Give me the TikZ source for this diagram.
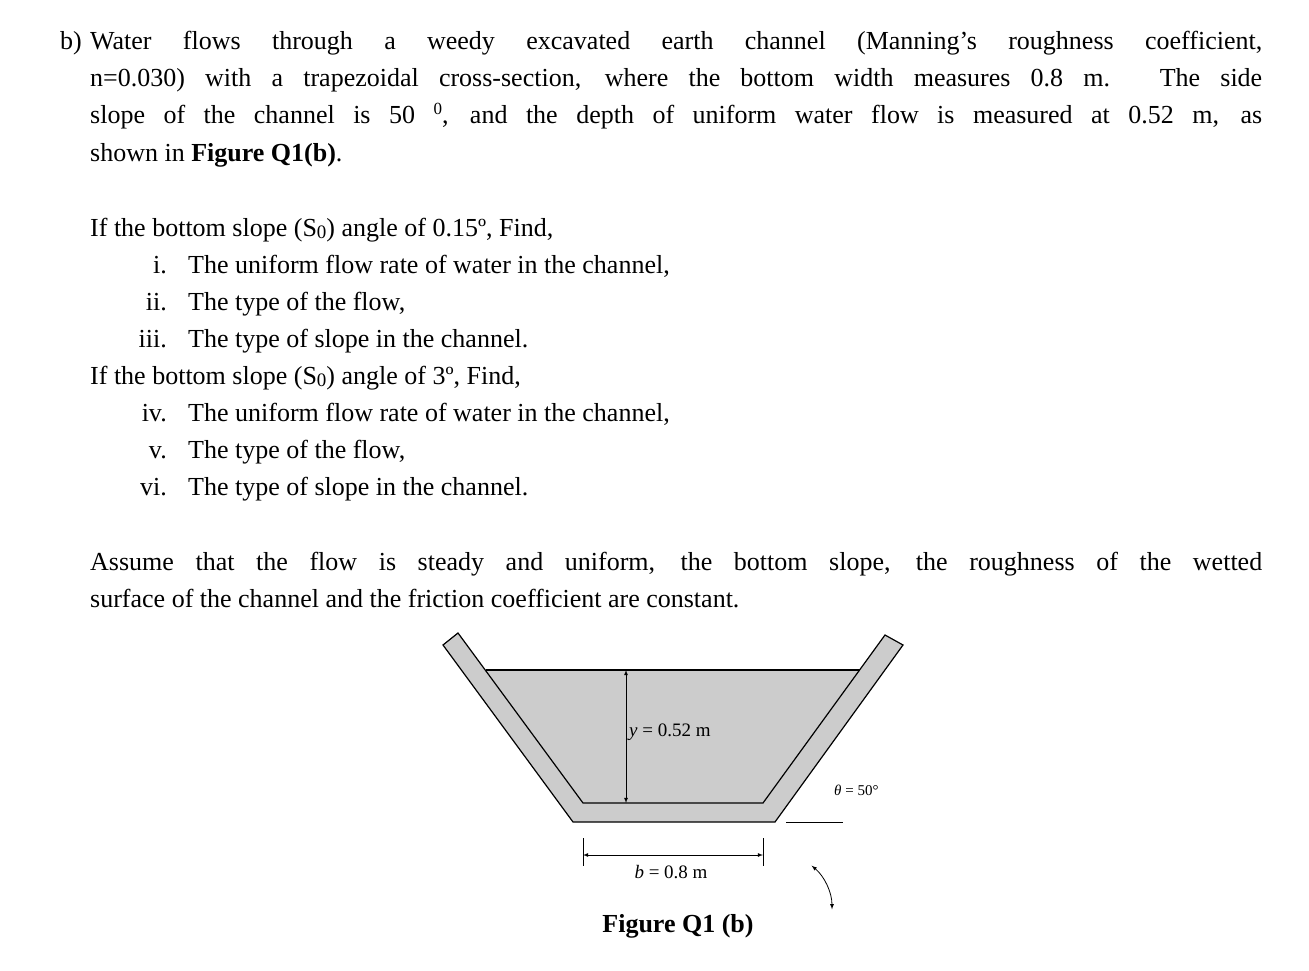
\documentclass[tikz,border=0pt]{standalone}
\usepackage{fontspec}
\setmainfont{Liberation Serif}
\begin{document}
\begin{tikzpicture}[x=1pt,y=-1pt,
  txt/.style={anchor=base west,inner sep=0pt,font=\fontsize{26}{30}\selectfont},
  num/.style={anchor=base east,inner sep=0pt,font=\fontsize{26}{30}\selectfont},
  lbl/.style={inner sep=1pt,font=\fontsize{19}{22}\selectfont},
  dim/.style={line width=0.8pt}]
\useasboundingbox[fill=white] (0,0) rectangle (1309,971);
\newcommand{\jl}[1]{\makebox[1172pt][s]{#1}}
\newcommand{\So}{S\raisebox{-2pt}{\fontsize{19}{20}\selectfont 0}}
\node[txt] (b) at (60,50) {b)};
\node[txt] (l1) at (90,50) {\jl{Water flows through a weedy excavated earth channel (Manning’s roughness coefficient,}};
\node[txt] (l2) at (90,87) {\jl{n=0.030) with a trapezoidal cross-section, where the bottom width measures 0.8 m. The side}};
\node[txt] (l3) at (90,124) {\jl{slope of the channel is 50 \raisebox{9pt}{\fontsize{17}{18}\selectfont 0}, and the depth of uniform water flow is measured at 0.52 m, as}};
\node[txt] (l4) at (90,161) {shown in \textbf{Figure Q1(b)}.};
\node[txt] (p1) at (90,236) {If the bottom slope (\So) angle of 0.15º, Find,};
\node[num] (n1) at (167,273) {i.};
\node[txt] (t1) at (188,273) {The uniform flow rate of water in the channel,};
\node[num] (n2) at (167,310) {ii.};
\node[txt] (t2) at (188,310) {The type of the flow,};
\node[num] (n3) at (167,347) {iii.};
\node[txt] (t3) at (188,347) {The type of slope in the channel.};
\node[txt] (p2) at (90,384) {If the bottom slope (\So) angle of 3º, Find,};
\node[num] (n4) at (167,421) {iv.};
\node[txt] (t4) at (188,421) {The uniform flow rate of water in the channel,};
\node[num] (n5) at (167,458) {v.};
\node[txt] (t5) at (188,458) {The type of the flow,};
\node[num] (n6) at (167,495) {vi.};
\node[txt] (t6) at (188,495) {The type of slope in the channel.};
\node[txt] (a1) at (90,570) {\jl{Assume that the flow is steady and uniform, the bottom slope, the roughness of the wetted}};
\node[txt] (a2) at (90,607) {surface of the channel and the friction coefficient are constant.};
% channel
\definecolor{wg}{gray}{0.80}
\fill[wg] (443,645) -- (458,633) -- (583,803) -- (763,803) -- (885,635) -- (903,645) -- (775,822) -- (573,822) -- cycle;
\fill[wg] (485,670) -- (583,803) -- (763,803) -- (860,670) -- cycle;
\draw[line width=1.2pt,line join=miter] (458,633) -- (583,803) -- (763,803) -- (885,635) -- (903,645) -- (775,822) -- (573,822) -- (443,645) -- cycle;
\draw[line width=1.2pt] (486,670) -- (860,670);
% y dimension
\coordinate (ytop) at (626,670);
\coordinate (ybot) at (626,803);
\draw[dim,<->,>=latex] (ytop) -- (ybot);
\node[lbl,anchor=west] (ylab) at (628,732) {\textit{y} = 0.52 m};
% b dimension
\coordinate (bl) at (583,855);
\coordinate (br) at (763,855);
\draw[dim] (583,838) -- (583,866);
\draw[dim] (763,838) -- (763,866);
\draw[dim,<->,>=latex] (bl) -- (br);
\node[lbl] (blab) at (671,872) {\textit{b} = 0.8 m};
% angle
\coordinate (corner) at (775,822);
\draw[dim] (786,822) -- (843,822);
\draw[dim,<->,>=latex] ([shift={(50:57)}]775,822) arc[start angle=-50,end angle=0,radius=57];
\node[lbl,anchor=west,font=\fontsize{15}{18}\selectfont] (tlab) at (833,790) {\textit{θ} = 50°};
\node[anchor=base,inner sep=0pt,font=\fontsize{26}{30}\selectfont\bfseries] (cap) at (678,932) {Figure Q1 (b)};
\end{tikzpicture}
\end{document}
